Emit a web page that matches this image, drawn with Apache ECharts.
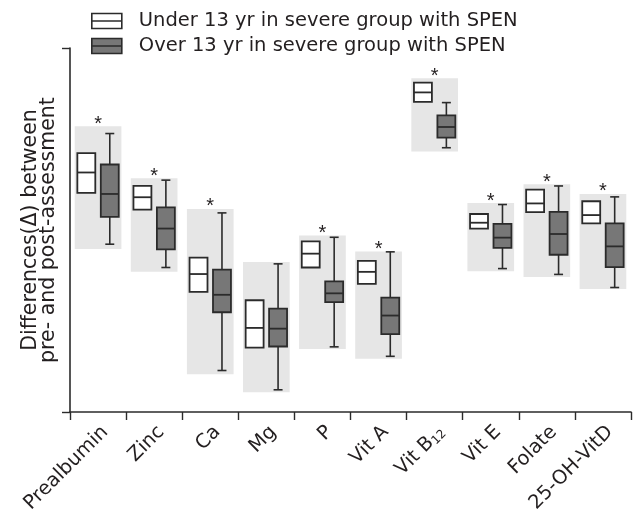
<!DOCTYPE html>
<html>
<head>
<meta charset="utf-8">
<script src="https://cdn.jsdelivr.net/npm/echarts@6/dist/echarts.min.js"></script>
<style>html,body{margin:0;padding:0;background:#fff}#c{width:644px;height:525px}</style>
</head>
<body>
<div id="c"></div>
<script>
const categories = ['Prealbumin', 'Zinc', 'Ca', 'Mg', 'P', 'Vit A', 'Vit B12', 'Vit E', 'Folate', '25-OH-VitD'];
const seriesNames = ['Under 13 yr in severe group with SPEN', 'Over 13 yr in severe group with SPEN'];
// [min, Q1, median, Q3, max]
const under13 = [
  [60.2, 60.2, 65.8, 71.1, 71.1],
  [55.6, 55.6, 59.0, 62.1, 62.1],
  [33.0, 33.0, 37.9, 42.4, 42.4],
  [17.7, 17.7, 23.1, 30.7, 30.7],
  [39.7, 39.7, 43.5, 46.9, 46.9],
  [35.2, 35.2, 38.5, 41.5, 41.5],
  [85.2, 85.2, 87.8, 90.5, 90.5],
  [50.4, 50.4, 52.0, 54.4, 54.4],
  [54.9, 54.9, 57.3, 61.1, 61.1],
  [51.8, 51.8, 54.1, 57.9, 57.9]
];
const over13 = [
  [46.1, 53.6, 59.9, 68.0, 76.5],
  [39.7, 44.7, 50.4, 56.2, 63.7],
  [11.4, 27.4, 32.2, 39.1, 54.7],
  [6.1, 18.0, 22.9, 28.4, 40.7],
  [17.9, 30.2, 32.6, 35.9, 48.0],
  [15.3, 21.4, 26.5, 31.4, 44.0],
  [72.6, 75.4, 78.3, 81.5, 85.0],
  [39.4, 45.1, 47.9, 51.7, 57.0],
  [37.8, 43.2, 48.9, 55.0, 62.1],
  [34.2, 39.8, 45.5, 51.8, 59.1]
];
// shaded range per category
const shadeLow = [44.8, 38.5, 10.4, 5.4, 17.3, 14.6, 71.6, 38.7, 37.1, 33.8];
const shadeHigh = [78.5, 64.2, 55.8, 41.2, 48.5, 44.1, 91.7, 57.4, 62.6, 59.9];
const significant = [1, 1, 1, 0, 1, 1, 1, 1, 1, 1];

const FONT = 'DejaVu Sans';
const TXT = '#231f20';
const EDGE = '#2b2b2b';

function boxRender(sign, fill) {
  return function (params, api) {
    const i = api.value(0);
    const bw = api.size([1, 0])[0];
    const cx = api.coord([i, 0])[0] + sign * bw * 0.209;
    const w = bw * 0.32, cap = bw * 0.16;
    const y = k => api.coord([i, api.value(k)])[1];
    const yMin = y(1), yQ1 = y(2), yMed = y(3), yQ3 = y(4), yMax = y(5);
    const ls = { stroke: EDGE, lineWidth: 1.6 };
    const ch = [];
    if (yMax < yQ3 - 0.5) {
      ch.push({ type: 'line', shape: { x1: cx, y1: yQ3, x2: cx, y2: yMax }, style: ls });
      ch.push({ type: 'line', shape: { x1: cx - cap / 2, y1: yMax, x2: cx + cap / 2, y2: yMax }, style: ls });
    }
    if (yMin > yQ1 + 0.5) {
      ch.push({ type: 'line', shape: { x1: cx, y1: yQ1, x2: cx, y2: yMin }, style: ls });
      ch.push({ type: 'line', shape: { x1: cx - cap / 2, y1: yMin, x2: cx + cap / 2, y2: yMin }, style: ls });
    }
    ch.push({ type: 'rect', shape: { x: cx - w / 2, y: yQ3, width: w, height: yQ1 - yQ3 }, style: { fill: fill, stroke: EDGE, lineWidth: 1.8 } });
    ch.push({ type: 'line', shape: { x1: cx - w / 2, y1: yMed, x2: cx + w / 2, y2: yMed }, style: { stroke: EDGE, lineWidth: 1.8 } });
    return { type: 'group', children: ch };
  };
}

const shadeData = categories.map((c, i) => [i, shadeLow[i], shadeHigh[i], significant[i]]);
const underData = under13.map((v, i) => [i].concat(v));
const overData = over13.map((v, i) => [i].concat(v));

const chart = echarts.init(document.getElementById('c'), null, { renderer: 'canvas' });
chart.setOption({
  animation: false,
  backgroundColor: '#fff',
  legend: {
    orient: 'vertical',
    left: 86,
    top: 6,
    itemWidth: 30,
    itemHeight: 15,
    itemGap: 5,
    textStyle: { fontFamily: FONT, fontSize: 19.5, color: TXT, padding: [0, 0, 0, 12] },
    data: [
      { name: seriesNames[0], icon: 'path://M0,0H30V15H0Z M0,7.5H30', itemStyle: { color: '#fff', borderColor: EDGE, borderWidth: 1.6 } },
      { name: seriesNames[1], icon: 'path://M0,0H30V15H0Z M0,7.5H30', itemStyle: { color: '#777777', borderColor: EDGE, borderWidth: 1.6 } }
    ]
  },
  grid: { left: 70, right: 13, top: 48, bottom: 113 },
  xAxis: {
    type: 'category',
    data: categories,
    boundaryGap: true,
    axisLine: { lineStyle: { color: EDGE, width: 1.6 } },
    axisTick: { show: true, length: 8, lineStyle: { color: EDGE, width: 1.4 } },
    axisLabel: {
      rotate: 45,
      margin: 10,
      interval: 0,
      verticalAlign: 'top',
      color: TXT,
      fontFamily: FONT,
      fontSize: 19.5,
      formatter: v => v === 'Vit B12' ? 'Vit B{sub|12}' : v,
      rich: { sub: { fontFamily: FONT, fontSize: 12, color: TXT, verticalAlign: 'bottom', padding: [8, 0, 0, 0] } }
    }
  },
  yAxis: {
    type: 'value',
    min: 0,
    max: 100,
    interval: 100,
    name: 'Differences(\u0394) between\npre- and post-assessment',
    nameLocation: 'middle',
    nameGap: 12,
    nameRotate: 90,
    nameTextStyle: { fontFamily: FONT, fontSize: 20.5, color: TXT, lineHeight: 18 },
    axisLine: { show: true, lineStyle: { color: EDGE, width: 1.6 } },
    axisTick: { show: true, length: 8, lineStyle: { color: EDGE, width: 1.4 } },
    axisLabel: { show: false },
    splitLine: { show: false }
  },
  series: [
    {
      type: 'custom',
      name: 'shade',
      data: shadeData,
      encode: { x: 0, y: [1, 2] },
      z: 1,
      renderItem: function (params, api) {
        const i = api.value(0);
        const bw = api.size([1, 0])[0];
        const lo = api.coord([i, api.value(1)]);
        const hi = api.coord([i, api.value(2)]);
        const w = bw * 0.832;
        const ch = [{ type: 'rect', shape: { x: lo[0] - w / 2, y: hi[1], width: w, height: lo[1] - hi[1] }, style: { fill: '#e6e6e6' } }];
        if (api.value(3)) {
          ch.push({ type: 'text', style: { text: '*', x: lo[0], y: hi[1] - 2, align: 'center', verticalAlign: 'middle', fontFamily: 'Liberation Sans', fontSize: 20, fill: TXT } });
        }
        return { type: 'group', children: ch };
      }
    },
    { type: 'custom', name: seriesNames[0], data: underData, encode: { x: 0, y: [1, 2, 3, 4, 5] }, z: 2, itemStyle: { color: '#fff' }, renderItem: boxRender(-1, '#ffffff') },
    { type: 'custom', name: seriesNames[1], data: overData, encode: { x: 0, y: [1, 2, 3, 4, 5] }, z: 2, itemStyle: { color: '#777777' }, renderItem: boxRender(1, '#777777') }
  ]
});
</script>
</body>
</html>
